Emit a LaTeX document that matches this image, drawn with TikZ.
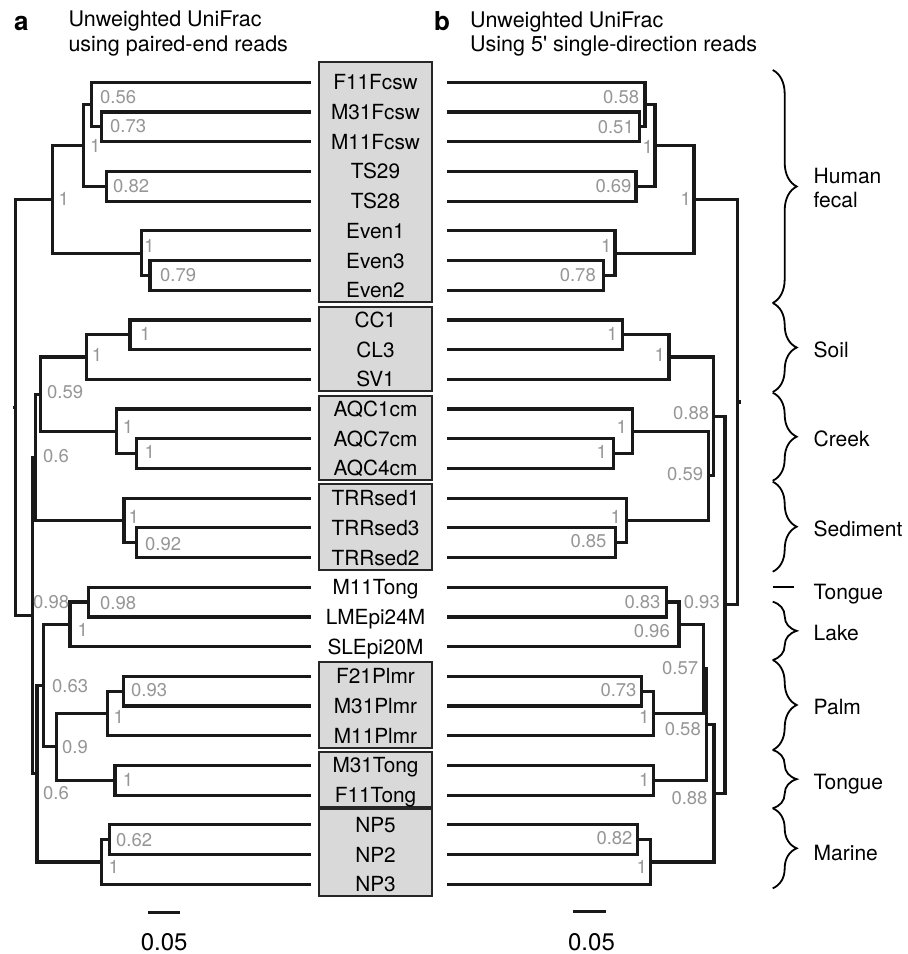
\documentclass[tikz,border=0pt]{standalone}
\usepackage{fontspec}
\setmainfont{TeX Gyre Heros}
\usepackage{tikz}
\usetikzlibrary{decorations.pathreplacing}
\definecolor{bootgray}{RGB}{150,150,150}
\definecolor{cladegray}{RGB}{217,217,217}

\begin{document}
\begin{tikzpicture}[x=1pt, y=-1pt,
  br/.style={line width=3.2pt, black!90},
  leaf/.style={font=\fontsize{20.8}{24}\selectfont, text height=15pt,
    text depth=0pt, inner sep=0pt},
  bsl/.style={font=\fontsize{18.5}{21}\selectfont, text=bootgray,
    text height=13.2pt, text depth=0pt, inner sep=0pt},
  ttl/.style={font=\fontsize{21.5}{25}\selectfont, anchor=base west, inner sep=0pt},
  grp/.style={font=\fontsize{21}{24}\selectfont, anchor=base west, inner sep=0pt},
  panel/.style={font=\fontsize{26}{28}\selectfont\bfseries, anchor=base west, inner sep=0pt},
  sclbl/.style={font=\fontsize{24}{26}\selectfont, text height=17pt,
    text depth=0pt, inner sep=0pt},
  clade/.style={fill=cladegray, draw=black!85, line width=1.8pt},
  brc/.style={decorate, decoration={brace, amplitude=24pt}, line width=1.8pt}
]
\useasboundingbox (0,0) rectangle (908,954);

% titles
\node[panel] (pa) at (14,30.7) {a};
\node[panel] (pb) at (434,30.7) {b};
\node[ttl] (ttlA1) at (68.3,26.7) {Unweighted UniFrac};
\node[ttl] (ttlA2) at (68.3,51.7) {using paired-end reads};
\node[ttl] (ttlB1) at (470,27.3) {Unweighted UniFrac};
\node[ttl] (ttlB2) at (470,51.7) {Using 5\textquotesingle\ single-direction reads};

% clade boxes
\foreach \t/\b in {62.3/301.7, 306.7/391, 395.7/480, 484.3/570,
                   662.3/747.7, 751.7/806.7, 809/895.7}
  \draw[clade] (319,\t) rectangle (432,\b);

% leaves
\foreach \nm [count=\i from 0] in {F11Fcsw,M31Fcsw,M11Fcsw,TS29,TS28,Even1,Even3,Even2,
    CC1,CL3,SV1,AQC1cm,AQC7cm,AQC4cm,TRRsed1,TRRsed3,TRRsed2,M11Tong,LMEpi24M,
    SLEpi20M,F21Plmr,M31Plmr,M11Plmr,M31Tong,F11Tong,NP5,NP2,NP3}{
  \pgfmathsetmacro{\yy}{82.3+29.7*\i}
  \node[leaf] (leaf\i) at (375.5,\yy) {\nm};
  \coordinate (la\i) at (311,\yy);
  \coordinate (lb\i) at (447,\yy);
}

% tree a
\coordinate (aA) at (91.7,104.6);   \coordinate (aB) at (101.7,126.85);
\coordinate (aC) at (83.3,145.4);   \coordinate (aD) at (106.7,186.25);
\coordinate (aE) at (141.7,253.1);  \coordinate (aF) at (150,275.35);
\coordinate (aG) at (52.3,199.25);
\coordinate (aS1) at (130,334.75);  \coordinate (aS2) at (86.7,357);
\coordinate (aK1) at (116.7,431.3); \coordinate (aK2) at (136.7,453.55);
\coordinate (aSK) at (40.7,394.15);
\coordinate (aT1) at (124,520.4);   \coordinate (aT2) at (136.7,542.65);
\coordinate (aSKT) at (35.7,457.3);
\coordinate (aL1) at (88.3,602.05); \coordinate (aL2) at (70,624.3);
\coordinate (aP1) at (123.3,691.15); \coordinate (aP2) at (107.3,713.4);
\coordinate (aQ) at (115,780.25);   \coordinate (aPQ) at (56.7,746.8);
\coordinate (aLPQ) at (43.3,685.55);
\coordinate (aN1) at (109.3,839.65); \coordinate (aN2) at (101.7,861.9);
\coordinate (aLN) at (37,773.7);
\coordinate (aR2) at (32.5,615.5);  \coordinate (aR) at (15.7,407.4);

\draw[br] (aB) |- (la1) (aB) |- (la2);
\draw[br] (aA) |- (la0) (aA) |- (aB);
\draw[br] (aD) |- (la3) (aD) |- (la4);
\draw[br] (aC) |- (aA) (aC) |- (aD);
\draw[br] (aF) |- (la6) (aF) |- (la7);
\draw[br] (aE) |- (la5) (aE) |- (aF);
\draw[br] (aG) |- (aC) (aG) |- (aE);
\draw[br] (aS1) |- (la8) (aS1) |- (la9);
\draw[br] (aS2) |- (aS1) (aS2) |- (la10);
\draw[br] (aK2) |- (la12) (aK2) |- (la13);
\draw[br] (aK1) |- (la11) (aK1) |- (aK2);
\draw[br] (aSK) |- (aS2) (aSK) |- (aK1);
\draw[br] (aT2) |- (la15) (aT2) |- (la16);
\draw[br] (aT1) |- (la14) (aT1) |- (aT2);
\draw[br] (aSKT) |- (aSK) (aSKT) |- (aT1);
\draw[br] (aL1) |- (la17) (aL1) |- (la18);
\draw[br] (aL2) |- (aL1) (aL2) |- (la19);
\draw[br] (aP1) |- (la20) (aP1) |- (la21);
\draw[br] (aP2) |- (aP1) (aP2) |- (la22);
\draw[br] (aQ) |- (la23) (aQ) |- (la24);
\draw[br] (aPQ) |- (aP2) (aPQ) |- (aQ);
\draw[br] (aLPQ) |- (aL2) (aLPQ) |- (aPQ);
\draw[br] (aN1) |- (la25) (aN1) |- (la26);
\draw[br] (aN2) |- (aN1) (aN2) |- (la27);
\draw[br] (aLN) |- (aLPQ) (aLN) |- (aN2);
\draw[br] (aR2) |- (aSKT) (aR2) |- (aLN);
\draw[br] (aR) |- (aG) (aR) |- (aR2);
\draw[br] (aR) -- ++(-3,0);

\foreach \lx/\ly/\lt [count=\i] in {100/96.7/0.56, 110/126/0.73, 90/145.7/1,
    113/185.7/0.82, 58.3/199/1, 144/246/1, 160/275/0.79, 140/334.3/1,
    91.7/355/1, 47/392.3/0.59, 122.7/427.3/1, 144.3/451.7/1, 43/455.7/0.6,
    128.3/516.7/1, 145/544/0.92, 33/601.7/0.98, 100/603.3/0.98, 77.3/630/1,
    52/686/0.63, 131/690/0.93, 113.3/716.7/1, 62/746.7/0.9, 122.7/780/1,
    43/793.3/0.6, 116/840/0.62, 108.3/866.7/1}
  \node[bsl, anchor=west] (sa\i) at (\lx,\ly) {\lt};

% tree b
\coordinate (bA) at (645,104.6);    \coordinate (bB) at (639.5,126.85);
\coordinate (bC) at (655,145.4);    \coordinate (bD) at (636,186.25);
\coordinate (bE) at (615,253.1);    \coordinate (bF) at (603.3,275.35);
\coordinate (bG) at (694,199.25);
\coordinate (bS1) at (622.7,334.75); \coordinate (bS2) at (669,357);
\coordinate (bK1) at (632.7,431.3); \coordinate (bK2) at (613.3,453.55);
\coordinate (bT1) at (626.7,520.4); \coordinate (bT2) at (615.7,542.65);
\coordinate (bKT) at (708.3,475.85); \coordinate (bSKT) at (713.3,416.4);
\coordinate (bL1) at (666.7,602.05); \coordinate (bL2) at (679,624.3);
\coordinate (bP1) at (641.7,691.15); \coordinate (bP2) at (653.3,713.4);
\coordinate (bLP) at (703.3,668.85);
\coordinate (bQ) at (653.3,780.25); \coordinate (bLPQ) at (706.7,724.55);
\coordinate (bN1) at (637.7,839.65); \coordinate (bN2) at (650.7,861.9);
\coordinate (bLN) at (714,793.2);
\coordinate (bR2) at (725,604.8);   \coordinate (bR) at (737.7,402);

\draw[br] (bB) |- (lb1) (bB) |- (lb2);
\draw[br] (bA) |- (lb0) (bA) |- (bB);
\draw[br] (bD) |- (lb3) (bD) |- (lb4);
\draw[br] (bC) |- (bA) (bC) |- (bD);
\draw[br] (bF) |- (lb6) (bF) |- (lb7);
\draw[br] (bE) |- (lb5) (bE) |- (bF);
\draw[br] (bG) |- (bC) (bG) |- (bE);
\draw[br] (bS1) |- (lb8) (bS1) |- (lb9);
\draw[br] (bS2) |- (bS1) (bS2) |- (lb10);
\draw[br] (bK2) |- (lb12) (bK2) |- (lb13);
\draw[br] (bK1) |- (lb11) (bK1) |- (bK2);
\draw[br] (bT2) |- (lb15) (bT2) |- (lb16);
\draw[br] (bT1) |- (lb14) (bT1) |- (bT2);
\draw[br] (bKT) |- (bK1) (bKT) |- (bT1);
\draw[br] (bSKT) |- (bS2) (bSKT) |- (bKT);
\draw[br] (bL1) |- (lb17) (bL1) |- (lb18);
\draw[br] (bL2) |- (bL1) (bL2) |- (lb19);
\draw[br] (bP1) |- (lb20) (bP1) |- (lb21);
\draw[br] (bP2) |- (bP1) (bP2) |- (lb22);
\draw[br] (bLP) |- (bL2) (bLP) |- (bP2);
\draw[br] (bQ) |- (lb23) (bQ) |- (lb24);
\draw[br] (bLPQ) |- (bLP) (bLPQ) |- (bQ);
\draw[br] (bN1) |- (lb25) (bN1) |- (lb26);
\draw[br] (bN2) |- (bN1) (bN2) |- (lb27);
\draw[br] (bLN) |- (bLPQ) (bLN) |- (bN2);
\draw[br] (bR2) |- (bSKT) (bR2) |- (bLN);
\draw[br] (bR) |- (bG) (bR) |- (bR2);
\draw[br] (bR) -- ++(3,0);

\foreach \lx/\ly/\lt [count=\i] in {639.3/97.3/0.58, 634/126.7/0.51, 653/146.7/1,
    631.7/185.7/0.69, 691/199/1, 611.5/246/1, 596/275/0.78, 617.5/334.3/1,
    665/355/1, 709.3/413.3/0.88, 627/427.3/1, 607/451.7/1, 703.3/474/0.59,
    621/516.7/1, 606.7/540.7/0.85, 660.7/601.7/0.83, 720/601.7/0.93,
    670/630.7/0.96, 698.3/668.3/0.57, 636.7/690/0.73, 649.5/716.7/1,
    701/729.3/0.58, 649.5/780/1, 707.7/797.7/0.88, 632.7/838.3/0.82, 647/866.7/1}
  \node[bsl, anchor=east] (sb\i) at (\lx,\ly) {\lt};

% scale bars
\draw[br] (148.3,912.7) -- (180,912.7);
\node[sclbl] (sclA) at (164.2,941.7) {0.05};
\draw[br] (573.3,911.7) -- (605.7,911.7);
\node[sclbl] (sclB) at (591.5,941.7) {0.05};

% habitat braces
\foreach \t/\b in {70/303, 303/392, 392.7/480.7, 481.7/571.7,
                   601.7/660, 660/750, 750/808.3, 808.3/888.3}
  \draw[brc] (772.7,\t) -- (772.7,\b);
\draw[line width=1.8pt] (772.7,586.7) -- (794,586.7);

\node[grp] (gHum) at (813.5,183.3) {Human};
\node[grp] (gFec) at (813.5,207.3) {fecal};
\node[grp] (gSoil) at (813.5,357.8) {Soil};
\node[grp] (gCrk) at (813.5,446.8) {Creek};
\node[grp] (gSed) at (813.5,536.8) {Sediment};
\node[grp] (gTng1) at (813.5,599.2) {Tongue};
\node[grp] (gLake) at (813.5,640.8) {Lake};
\node[grp] (gPalm) at (813.5,714.8) {Palm};
\node[grp] (gTng2) at (813.5,789.2) {Tongue};
\node[grp] (gMar) at (813.5,860.8) {Marine};
\end{tikzpicture}
\end{document}
